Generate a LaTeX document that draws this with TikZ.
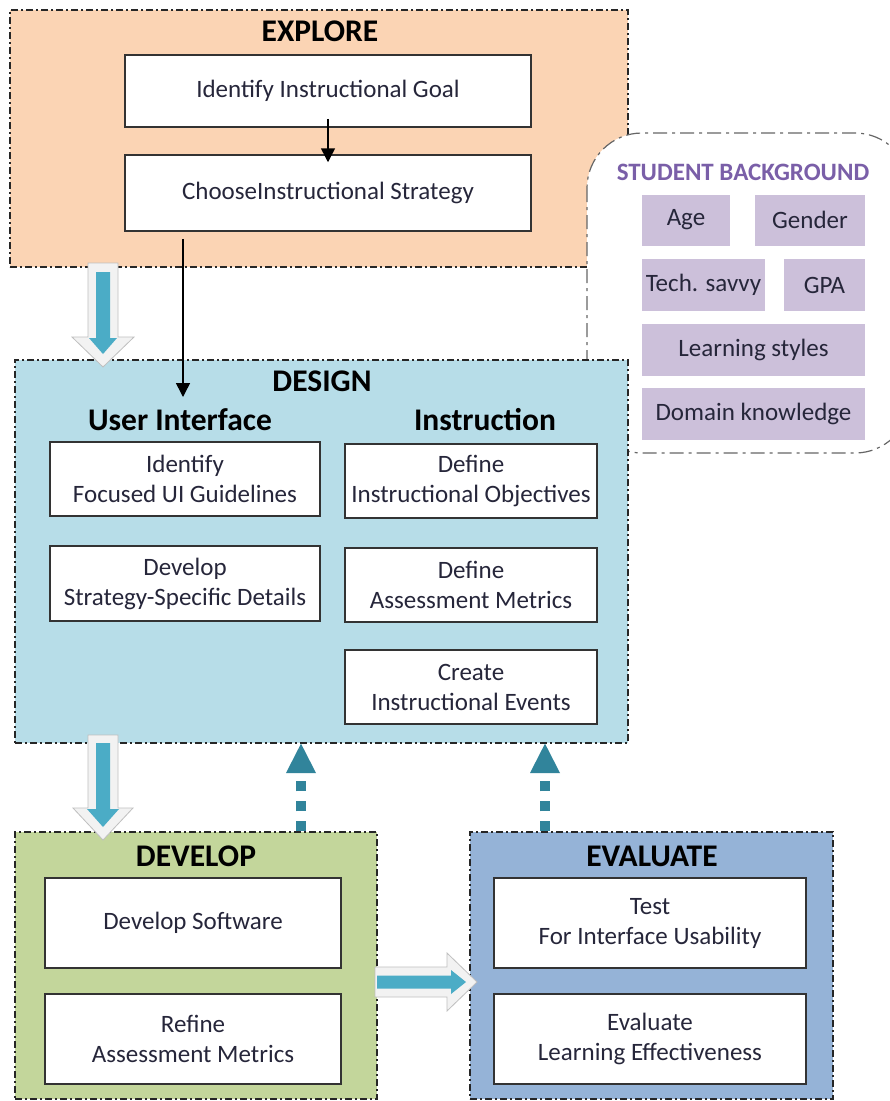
\documentclass[tikz,border=0pt]{standalone}
\usepackage{fontspec}
\setmainfont{Carlito}
\usetikzlibrary{arrows.meta,calc}
\definecolor{explorefill}{HTML}{FBD4B4}
\definecolor{designfill}{HTML}{B7DDE8}
\definecolor{developfill}{HTML}{C3D69B}
\definecolor{evalfill}{HTML}{95B3D7}
\definecolor{stufill}{HTML}{CCC0DA}
\definecolor{stutitle}{HTML}{7A5FA8}
\definecolor{tealdash}{HTML}{31849B}
\definecolor{arrowblue}{HTML}{4BACC6}
\definecolor{txt}{HTML}{26263A}
\begin{document}
\begin{tikzpicture}[x=1pt,y=-1pt,
  phase/.style={draw=black!85, line width=1.2pt, dash pattern=on 7pt off 3pt on 2pt off 3pt, inner sep=0pt, rectangle},
  wbox/.style={draw=black!80, line width=1.5pt, fill=white, inner sep=0pt, align=center, font=\fontsize{25}{30}\selectfont, text=txt},
  ttl/.style={font=\bfseries\fontsize{31.5}{36}\selectfont, text=black, inner sep=0pt},
  stuttl/.style={font=\bfseries\fontsize{25}{30}\selectfont, text=stutitle, inner sep=0pt},
  stu/.style={fill=stufill, inner sep=0pt, font=\fontsize{25}{30}\selectfont, text=txt},
  blockout/.style={fill=black!5, draw=black!25, line width=0.8pt},
  blockin/.style={fill=arrowblue},
  dashup/.style={draw=tealdash, line width=10pt, dash pattern=on 10pt off 10pt},
  headup/.style={fill=tealdash},
  thinarrow/.style={draw=black, line width=1.5pt, -{Triangle[width=14pt,length=14pt]}},
]
\useasboundingbox (0,0) rectangle (890,1101);
\fill[white] (0,0) rectangle (890,1101);

% EXPLORE
\node[phase, fill=explorefill, minimum width=618pt, minimum height=257pt] (explore) at (319,138.5) {};
\node[ttl] (exploreT) at (320,31) {EXPLORE};
\node[wbox, minimum width=406pt, minimum height=72pt] (goal) at (328,91) {Identify Instructional Goal};
\node[wbox, minimum width=406pt, minimum height=76pt] (choose) at (328,193) {ChooseInstructional Strategy};
\draw[thinarrow] ($(goal.south)+(0,-9)$) -- ($(choose.north)+(0,8)$);

% STUDENT BACKGROUND
\draw[fill=white, draw=black!60, line width=1.2pt, rounded corners=55pt, dash pattern=on 14pt off 5pt on 3pt off 5pt] (587,133) rectangle (910,453);
\node[stuttl] (stuT) at (743,172) {STUDENT BACKGROUND};
\node[stu, minimum width=88pt, minimum height=51pt] (age) at (686,220) {Age};
\node[stu, minimum width=110pt, minimum height=51pt] (gender) at (810,220) {Gender};
\node[stu, minimum width=123pt, minimum height=52pt] (tech) at (703.5,285) {Tech. savvy};
\node[stu, minimum width=81pt, minimum height=52pt] (gpa) at (824.5,285) {GPA};
\node[stu, minimum width=223pt, minimum height=52pt] (learn) at (753.5,350) {Learning styles};
\node[stu, minimum width=223pt, minimum height=52pt] (domain) at (753.5,414) {Domain knowledge};

% DESIGN
\node[phase, fill=designfill, minimum width=613pt, minimum height=383pt] (design) at (321.5,551.5) {};
\node[ttl] (designT) at (322,381) {DESIGN};
\node[ttl] (uiT) at (180,420) {User Interface};
\node[ttl] (instT) at (485,420) {Instruction};
\node[wbox, minimum width=270pt, minimum height=74pt] (ui1) at (185,479) {Identify\\Focused UI Guidelines};
\node[wbox, minimum width=270pt, minimum height=75pt] (ui2) at (185,583.5) {Develop\\Strategy-Specific Details};
\node[wbox, minimum width=252pt, minimum height=74pt] (in1) at (471,481) {Define\\Instructional Objectives};
\node[wbox, minimum width=252pt, minimum height=74pt] (in2) at (471,585) {Define\\Assessment Metrics};
\node[wbox, minimum width=252pt, minimum height=74pt] (in3) at (471,687) {Create\\Instructional Events};

\coordinate (uitip) at (183,397);
\draw[thinarrow] ($(choose.south -| uitip)+(0,7)$) -- (uitip);

% Block arrow EXPLORE -> DESIGN
\draw[blockout] (88,263) -- (118,263) -- (118,337) -- (134,337) -- (103,367) -- (72,337) -- (88,337) -- cycle;
\fill[blockin] (96,272) -- (110,272) -- (110,338) -- (117,338) -- (103,354) -- (89,338) -- (96,338) -- cycle;

% DEVELOP
\node[phase, fill=developfill, minimum width=362pt, minimum height=267pt] (develop) at (196,965.5) {};
\node[ttl] (developT) at (196,856) {DEVELOP};
\node[wbox, minimum width=296pt, minimum height=90pt] (dev1) at (193,923) {Develop Software};
\node[wbox, minimum width=296pt, minimum height=90pt] (dev2) at (193,1039) {Refine\\Assessment Metrics};

% EVALUATE
\node[phase, fill=evalfill, minimum width=363pt, minimum height=267pt] (evaluate) at (651.5,965.5) {};
\node[ttl] (evaluateT) at (652,856) {EVALUATE};
\node[wbox, minimum width=312pt, minimum height=90pt] (ev1) at (650,923) {Test\\For Interface Usability};
\node[wbox, minimum width=312pt, minimum height=90pt] (ev2) at (650,1039) {Evaluate\\Learning Effectiveness};

% Block arrow DESIGN -> DEVELOP
\draw[blockout] (88,735) -- (118,735) -- (118,808) -- (133,808) -- (103,840) -- (73,808) -- (88,808) -- cycle;
\fill[blockin] (96,743) -- (110,743) -- (110,809) -- (119,809) -- (103,827) -- (87,809) -- (96,809) -- cycle;

% Block arrow DEVELOP -> EVALUATE
\draw[blockout] (375,967) -- (447,967) -- (447,953) -- (477,982) -- (447,1011) -- (447,997) -- (375,997) -- cycle;
\fill[blockin] (377,975.5) -- (451,975.5) -- (451,970) -- (466,982) -- (451,994) -- (451,988.5) -- (377,988.5) -- cycle;

% Dashed feedback arrows
\coordinate (fb1) at (301,773);
\coordinate (fb2) at (545,773);
\draw[dashup] (develop.north -| fb1) -- (fb1);
\fill[headup] ($(fb1)+(-15,0)$) -- ($(fb1)+(15,0)$) -- (fb1 |- design.south) -- cycle;
\draw[dashup] (evaluate.north -| fb2) -- (fb2);
\fill[headup] ($(fb2)+(-15,0)$) -- ($(fb2)+(15,0)$) -- (fb2 |- design.south) -- cycle;
\end{tikzpicture}
\end{document}
